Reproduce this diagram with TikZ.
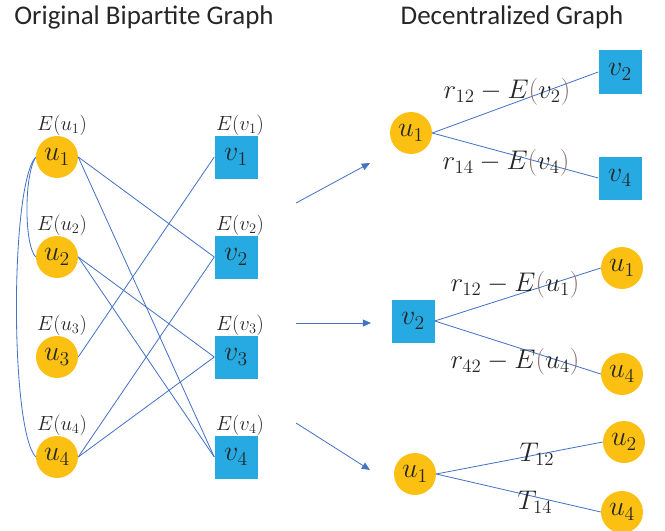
\RequirePackage{fix-cm}
\documentclass[tikz,border=0pt]{standalone}
\usepackage[no-math]{fontspec}
\newfontfamily\titlefont{Carlito}
\usepackage{xcolor}
\usetikzlibrary{arrows.meta}
\definecolor{nodeamber}{HTML}{FBC012}
\definecolor{nodesky}{HTML}{27AAE1}
\definecolor{edgeblue}{HTML}{4472C4}
\definecolor{inkgray}{HTML}{262626}
\definecolor{parenbrown}{HTML}{8E7070}
\newcommand{\bp}[1]{{\color{parenbrown}(}#1{\color{parenbrown})}}

\begin{document}
\begin{tikzpicture}[x=0.03cm,y=-0.03cm,
  unode/.style={circle,fill=nodeamber,minimum size=1.26cm,inner sep=0pt,text=inkgray,font=\fontsize{24}{28}\selectfont},
  vnode/.style={rectangle,fill=nodesky,minimum size=1.29cm,inner sep=0pt,text=inkgray,font=\fontsize{24}{28}\selectfont},
  elbl/.style={inner sep=0pt,text=inkgray,font=\fontsize{17.5}{20}\selectfont},
  wlbl/.style={inner sep=0pt,text=inkgray,font=\fontsize{23}{27}\selectfont},
  edge/.style={draw=edgeblue,line width=0.7pt},
  flow/.style={edge,-{Triangle[length=7pt,width=6pt]}},
  heading/.style={font=\titlefont\fontsize{23}{27}\selectfont,text=inkgray}]
  \useasboundingbox (0,0) rectangle (665,531);
  \node[heading] (ttlleft) at (144,17) {Original Bipartite Graph};
  \node[heading] (ttlright) at (512,17) {Decentralized Graph};
  % bipartite graph
  \foreach \i/\y in {1/157,2/257,3/357,4/457} {
    \node[unode] (u\i) at (57,\y) {$u_\i$};
    \node[elbl] (eu\i) at (62,\y-32) {$E(u_\i)$};
    \node[vnode] (v\i) at (236,\y) {$v_\i$};
    \node[elbl] (ev\i) at (240,\y-32) {$E(v_\i)$};
  }
  \foreach \a/\b in {1/2,1/4,2/3,2/4,3/1,4/2,4/3}
    \draw[edge] (u\a.east) -- (v\b.west);
  \draw[edge] (u1.west) .. controls (24,175) and (24,245) .. (u2.west);
  \draw[edge] (u1.west) .. controls (10,185) and (10,430) .. (u4.west);
  % arrows
  \coordinate (s1) at (296,203); \coordinate (t1) at (370,163);
  \coordinate (s2) at (296,323); \coordinate (t2) at (371,323);
  \coordinate (s3) at (296,423); \coordinate (t3) at (370,470);
  \foreach \k in {1,2,3}
    \draw[flow] (s\k) -- (t\k);
  % decentralized graph, top
  \node[unode] (a1) at (411,133) {$u_1$};
  \node[vnode] (a2) at (620,72) {$v_2$};
  \node[vnode] (a4) at (620,178) {$v_4$};
  \draw[edge] (a1.east) -- (a2.west);
  \draw[edge] (a1.east) -- (a4.west);
  \node[wlbl] (ra2) at (507,92) {$r_{12}-E\bp{v_2}$};
  \node[wlbl] (ra4) at (506,163) {$r_{14}-E\bp{v_4}$};
  % middle
  \node[vnode] (b2) at (413,321) {$v_2$};
  \node[unode] (b1) at (622,268) {$u_1$};
  \node[unode] (b4) at (622,374) {$u_4$};
  \draw[edge] (b2.east) -- (b1.west);
  \draw[edge] (b2.east) -- (b4.west);
  \node[wlbl] (rb1) at (515,285) {$r_{12}-E\bp{u_1}$};
  \node[wlbl] (rb4) at (515,362) {$r_{42}-E\bp{u_4}$};
  % bottom
  \node[unode] (c1) at (415,474) {$u_1$};
  \node[unode] (c2) at (624,442) {$u_2$};
  \node[unode] (c4) at (622,512) {$u_4$};
  \draw[edge] (c1.east) -- (c2.west);
  \draw[edge] (c1.east) -- (c4.west);
  \node[wlbl] (tc2) at (537,454) {$T_{12}$};
  \node[wlbl] (tc4) at (535,502) {$T_{14}$};
\end{tikzpicture}
\end{document}
